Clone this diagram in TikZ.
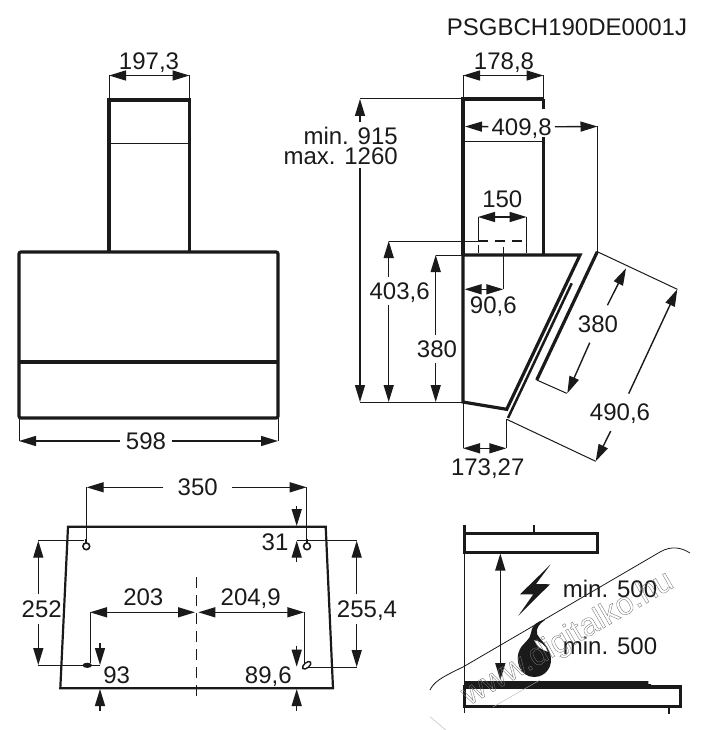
\documentclass[tikz,border=0pt]{standalone}
\usepackage{fontspec}
\setmainfont{Liberation Sans}
\usepackage{xcolor}
\usetikzlibrary{arrows.meta}
\definecolor{inkColor}{HTML}{1A1A1A}
\newcommand{\dimFont}{\fontsize{24}{24}\selectfont}
\newcommand{\markFont}{\fontsize{32}{32}\selectfont}
\newcommand{\outlineText}[1]{\special{pdf:code q 1 Tr 0.35 w 0.45 G}#1\special{pdf:code Q}}
\tikzset{
	>={Triangle[length=17pt,width=10pt]},
	bodyline/.style={line width=3.2pt, inkColor},
	wallline/.style={line width=2.2pt, inkColor},
	extline/.style={line width=1pt, inkColor},
	dimline/.style={line width=1.4pt, inkColor},
	dimtext/.style={font=\dimFont, text=inkColor, text height=17pt, text depth=0pt, inner sep=3pt},
}
\begin{document}
\begin{tikzpicture}[x=1pt,y=-1pt]
	\useasboundingbox (0,0) rectangle (702,730);

	\node[dimtext] (title) at (567,27) {PSGBCH190DE0001J};

	% front view
	\draw[bodyline, rounded corners=2pt] (19,252) rectangle (278,418);
	\draw[bodyline] (19,362) -- (278,362);
	\draw[bodyline] (109,252) -- (109,100) -- (189.5,100) -- (189.5,252);
	\draw[extline] (109,143.5) -- (189.5,143.5);
	\foreach \xPos/\yFrom/\yTo in {109/100/75, 189.5/100/75, 19/418/441, 278/418/441}
	{
		\draw[extline] (\xPos,\yFrom) -- (\xPos,\yTo);
	}
	\node[dimtext] (chimneyWidth) at (149,61) {197,3};
	\draw[dimline,<->] (109,75.5) -- (189.5,75.5);
	\node[dimtext, inner xsep=6pt] (hoodWidth) at (146,441) {598};
	\coordinate (hoodLeft) at (19,441);
	\coordinate (hoodRight) at (278,441);
	\draw[dimline,->] (hoodWidth) -- (hoodLeft);
	\draw[dimline,->] (hoodWidth) -- (hoodRight);

	% side view
	\draw[bodyline] (463,255) -- (463,99) -- (544,99);
	\draw[bodyline] (543.5,99) -- (543.5,109);
	\draw[bodyline] (543.5,137) -- (543.5,255);
	\draw[extline] (463,142) -- (543.5,142);
	\draw[bodyline, line join=miter] (463,255) -- (580,255) -- (506.7,409.3) -- (463,402) -- cycle;
	\draw[line width=2.5pt, inkColor] (571.7,283.3) -- (508,418);
	\draw[bodyline] (597.3,251.7) -- (536.7,380);
	\foreach \xA/\yA/\xB/\yB in {463/99/463/75, 543.5/99/543.5/75, 360/99/463/99, 360/402/463/402, 388.7/241/478/241, 435.7/255/463/255, 597.5/126/597.5/252, 478/217/478/241, 526.7/217/526.7/253, 503.3/247/503.3/289.3, 478/245/478/253, 463/402/463/448.3, 506.3/419/506.3/448.3, 597.3/251.7/677.3/289.3, 506.7/419.3/595.7/461.3, 536.7/380/566.7/393.3}
	{
		\draw[extline] (\xA,\yA) -- (\xB,\yB);
	}
	\draw[line width=1.5pt, inkColor, dash pattern=on 10pt off 7pt] (478,241) -- (527,241);

	\node[dimtext] (ductWidth) at (504,61) {178,8};
	\draw[dimline,<->] (463,75.5) -- (543.5,75.5);
	\node[dimtext] (ductDepth) at (521.6,127) {409,8};
	\coordinate (ductDepthLeft) at (465,126.5);
	\coordinate (ductDepthRight) at (597.5,126.5);
	\draw[dimline,->] (ductDepth) -- (ductDepthLeft);
	\draw[dimline,->] (ductDepth) -- (ductDepthRight);
	\node[dimtext, anchor=east, inner sep=0pt] (heightMin) at (398,136) {min. 915};
	\node[dimtext, anchor=east, inner sep=0pt] (heightMax) at (398,156) {max. 1260};
	\coordinate (heightTop) at (360,99);
	\coordinate (heightBottom) at (360,402);
	\draw[dimline,->] (360,122) -- (heightTop);
	\draw[dimline,->] (360,168) -- (heightBottom);
	\node[dimtext, inner ysep=5pt] (outletHeight) at (399.6,291) {403,6};
	\coordinate (outletHeightTop) at (388.7,241);
	\coordinate (outletHeightBottom) at (388.7,402);
	\draw[dimline,->] (outletHeightTop |- outletHeight.north) -- (outletHeightTop);
	\draw[dimline,->] (outletHeightBottom |- outletHeight.south) -- (outletHeightBottom);
	\node[dimtext, inner ysep=5pt] (bodyHeight) at (437,349) {380};
	\coordinate (bodyHeightTop) at (435.7,255);
	\coordinate (bodyHeightBottom) at (435.7,402);
	\draw[dimline,->] (bodyHeightTop |- bodyHeight.north) -- (bodyHeightTop);
	\draw[dimline,->] (bodyHeightBottom |- bodyHeight.south) -- (bodyHeightBottom);
	\node[dimtext] (outletWidth) at (502.3,199.3) {150};
	\draw[dimline,<->] (478,217) -- (526.7,217);
	\node[dimtext] (outletOffset) at (493.3,305) {90,6};
	\draw[dimline,<->] (464.5,289.3) -- (503.3,289.3);
	\node[dimtext] (bodyDepth) at (487.7,466.7) {173,27};
	\draw[dimline,<->] (463,448.3) -- (506.3,448.3);
	\node[dimtext, inner ysep=10pt] (panelShort) at (598,324) {380};
	\coordinate (panelShortTop) at (626,268.3);
	\coordinate (panelShortBottom) at (567.3,393.3);
	\draw[dimline,->] (panelShort) -- (panelShortTop);
	\draw[dimline,->] (panelShort) -- (panelShortBottom);
	\node[dimtext, inner ysep=10pt] (panelLong) at (620,412.3) {490,6};
	\coordinate (panelLongTop) at (677.3,289.3);
	\coordinate (panelLongBottom) at (595.7,461.3);
	\draw[dimline,->] (panelLong) -- (panelLongTop);
	\draw[dimline,->] (panelLong) -- (panelLongBottom);

	% wall plan
	\draw[wallline, line join=miter] (68,526.7) -- (325.7,526.7) -- (333,688.3) -- (60.3,688.3) -- cycle;
	\draw[line width=1.2pt, inkColor, dash pattern=on 11pt off 7pt] (196.7,577) -- (196.7,697);
	\foreach \holeX in {86.3,307}
	{
		\draw[line width=1.6pt, inkColor] (\holeX,546.3) circle (3.4);
		\draw[line width=1.8pt, inkColor] (\holeX,539) -- (\holeX,543);
	}
	\fill[inkColor] (87.3,665.3) circle [x radius=4.8, y radius=2.6];
	\draw[line width=1.4pt, inkColor, rotate around={40:(306.7,665.3)}] (306.7,665.3) circle [x radius=5, y radius=2.6];
	\foreach \xA/\yA/\xB/\yB in {86.7/487.3/86.7/541, 306.7/487.3/306.7/541, 38.3/540.7/84/540.7, 296.7/540.7/356.7/540.7, 38.3/665/100/665, 306.7/667/356.7/667, 90/612.3/90/663, 304.3/612.3/304.3/663}
	{
		\draw[extline] (\xA,\yA) -- (\xB,\yB);
	}
	\node[dimtext, inner xsep=14pt] (holeSpan) at (197.7,487.3) {350};
	\coordinate (holeSpanLeft) at (86.7,487.3);
	\coordinate (holeSpanRight) at (306.7,487.3);
	\draw[dimline,->] (holeSpan) -- (holeSpanLeft);
	\draw[dimline,->] (holeSpan) -- (holeSpanRight);
	\node[dimtext, inner ysep=6pt] (leftDrop) at (41.7,609) {252};
	\coordinate (leftDropTop) at (38.3,540.7);
	\coordinate (leftDropBottom) at (38.3,665);
	\draw[dimline,->] (leftDropTop |- leftDrop.north) -- (leftDropTop);
	\draw[dimline,->] (leftDropBottom |- leftDrop.south) -- (leftDropBottom);
	\node[dimtext, inner ysep=6pt] (rightDrop) at (367,609) {255,4};
	\coordinate (rightDropTop) at (356.7,540.7);
	\coordinate (rightDropBottom) at (356.7,667);
	\draw[dimline,->] (rightDropTop |- rightDrop.north) -- (rightDropTop);
	\draw[dimline,->] (rightDropBottom |- rightDrop.south) -- (rightDropBottom);
	\node[dimtext] (leftReach) at (143.3,597.3) {203};
	\draw[dimline,<->] (90,612.3) -- (195,612.3);
	\node[dimtext] (rightReach) at (250.7,597.3) {204,9};
	\draw[dimline,<->] (198.3,612.3) -- (304.3,612.3);
	\node[dimtext] (leftRise) at (116.7,675) {93};
	\node[dimtext] (rightRise) at (268.3,675) {89,6};
	\node[dimtext] (holeDrop) at (275,541.7) {31};
	\foreach \xPos/\yFrom/\yTo in {100/643/665, 100/711/689, 296.7/645.7/666.7, 296.7/711/689, 296.7/506/526, 296.7/561.7/540.7}
	{
		\draw[dimline,->] (\xPos,\yFrom) -- (\xPos,\yTo);
	}

	% clearance sketch
	\draw[bodyline] (464.7,533.3) rectangle (597.7,552.3);
	\draw[bodyline] (464.7,525) -- (464.7,552.3);
	\draw[line width=2pt, inkColor] (533.7,525) -- (533.7,533.3);
	\draw[line width=1.4pt, inkColor] (464.7,552.3) -- (464.7,713);
	\draw[bodyline] (464.7,687) rectangle (680.7,706.7);
	\draw[line width=2pt, inkColor] (668.7,706.7) -- (668.7,714);
	\fill[inkColor] (465,681) -- (648.3,681) -- (648.3,684) -- (651,684) -- (651,688) -- (465,688) -- cycle;
	\draw[dimline,<->] (500.3,553.5) -- (500.3,680);
	\fill[inkColor] (550.7,564.3) -- (520,594.3) -- (533.3,594.3) -- (518.3,615.7) -- (550,584.3) -- (536,584) -- cycle;
	\fill[inkColor, even odd rule] (545,620) .. controls (537,621) and (532,625) .. (531,633) .. controls (530,640) and (524,642) .. (520,649) .. controls (514,660) and (520,677) .. (534,677) .. controls (546,677) and (554,666) .. (550,653) .. controls (548,646) and (541,641) .. (537,634) .. controls (536,628) and (539,624) .. (545,620) -- cycle
		(534,640) .. controls (540,641) and (546,645) .. (548,652) .. controls (543,650) and (537,648) .. (534,640) -- cycle;
	\node[dimtext] (clearanceElectric) at (610,589.3) {min. 500};
	\node[dimtext] (clearanceGas) at (610,645.7) {min. 500};

	% site mark over the sketch
	\draw[line width=.8pt, inkColor] (430,690) .. controls (434,682) and (440,678) .. (463,667) -- (660,552) .. controls (672,545) and (682,548) .. (690,553);
	\draw[line width=.4pt, gray!60] (430,716.7) -- (447,731);
	\draw[line width=.4pt, gray!60] (493,707) -- (540,680);
	\node[font=\markFont, rotate=30, inner sep=0pt] (siteMark) at (568,639) {\outlineText{www.digitalko.hu}};
\end{tikzpicture}
\end{document}
